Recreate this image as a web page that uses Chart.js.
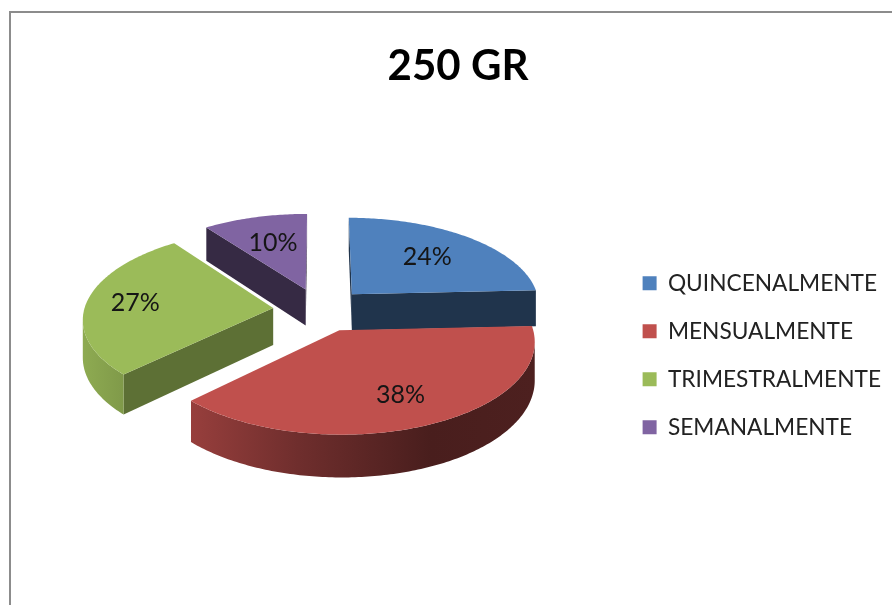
<!DOCTYPE html>
<html><head><meta charset="utf-8">
<script src="https://cdn.jsdelivr.net/npm/chart.js@4"></script>
<style>html,body{margin:0;padding:0;background:#fff}canvas{display:block;filter:blur(.45px)}#w{width:892px;height:605px;overflow:hidden}</style>
</head><body><div id="w"><canvas id="c" width="892" height="605"></canvas></div>
<script>
const categories = ['QUINCENALMENTE','MENSUALMENTE','TRIMESTRALMENTE','SEMANALMENTE'];
const percentages = [24,38,27,10];
const sliceColors = ['#4f81bd','#c0504d','#9bbb59','#8064a2'];
const faceShade = [0.4,0.4,0.6,0.42];
const labelRadius = [0.63,0.71,0.74,0.62];

const view = {cx:320,cy:309.7,a:189,b:88,k:0.11,depth:37};
function proj(px,py){const d=1-view.k*py;return [view.cx+view.a*px/d,view.cy+view.b*py/d,view.depth/d];}
function shade(hex,f){const n=parseInt(hex.slice(1),16);return `rgb(${Math.round((n>>16&255)*f)},${Math.round((n>>8&255)*f)},${Math.round((n&255)*f)})`;}
function quad(c,pts){ // the top edge run, then the same run lowered by its depth
  c.beginPath();
  pts.forEach((q,j)=>{j?c.lineTo(q[0],q[1]):c.moveTo(q[0],q[1]);});
  for(let j=pts.length-1;j>=0;j--)c.lineTo(pts[j][0],pts[j][1]+pts[j][2]);
  c.closePath();c.fill();
}

const pie3d = {
  id:'pie3d',
  beforeDraw(chart){
    const c=chart.ctx;c.save();c.strokeStyle='#8c8c8c';c.lineWidth=2;
    c.beginPath();c.moveTo(10,605);c.lineTo(10,12);c.lineTo(892,12);c.stroke();c.restore();
  },
  beforeDatasetsDraw(chart){
    const c=chart.ctx,meta=chart.getDatasetMeta(0);
    const items=meta.data.map((el,i)=>{
      const s=el.startAngle,e=el.endAngle,m=(s+e)/2,off=el.options.offset/el.outerRadius;
      const ox=off*Math.cos(m),oy=off*Math.sin(m),pts=[[ox,oy]];
      const n=Math.max(8,Math.ceil((e-s)/0.015));
      for(let j=0;j<=n;j++){const a=s+(e-s)*j/n;pts.push([ox+Math.cos(a),oy+Math.sin(a)]);}
      return {i,el,m,ox,oy,pts,color:el.options.backgroundColor};
    }).sort((p,q)=>Math.sin(p.m)-Math.sin(q.m));
    c.save();
    for(const it of items){
      const P=it.pts.map(p=>proj(p[0],p[1])),N=P.length,base=it.color;
      const grad=c.createLinearGradient(80,0,535,0);
      [[0,.92],[.1,.82],[.25,.78],[.48,.58],[.77,.38],[1,.4]].forEach(([t,f])=>grad.addColorStop(t,shade(base,f)));
      // cut faces that look at the viewer
      for(const [a,b] of [[P[0],P[1]],[P[N-1],P[0]]]){
        if(b[0]<a[0]){c.fillStyle=shade(base,faceShade[it.i]);quad(c,[a,b]);}
      }
      // visible run of the outer rim
      let run=[];
      const flush=()=>{if(run.length>1){c.fillStyle=grad;quad(c,run);}run=[];};
      for(let j=1;j<N-1;j++){
        if(P[j+1][0]<P[j][0]){if(!run.length)run.push(P[j]);run.push(P[j+1]);}else flush();
      }
      flush();
      c.fillStyle=base;c.beginPath();
      P.forEach((q,j)=>{j?c.lineTo(q[0],q[1]):c.moveTo(q[0],q[1]);});
      c.closePath();c.fill();
    }
    c.font='25px Lato';c.fillStyle='#151515';c.textAlign='center';c.textBaseline='middle';
    for(const it of items){
      const r=labelRadius[it.i],q=proj(it.ox+r*Math.cos(it.m),it.oy+r*Math.sin(it.m));
      c.fillText(percentages[it.i]+'%',q[0],q[1]);
    }
    c.restore();
    return false;
  }
};

new Chart(document.getElementById('c'),{
  type:'pie',
  data:{labels:categories,datasets:[{data:percentages,backgroundColor:sliceColors,borderWidth:0,offset:54}]},
  plugins:[pie3d],
  options:{
    responsive:false,animation:false,
    layout:{padding:{left:25,right:1,top:0,bottom:6}},
    plugins:{
      tooltip:{enabled:false},
      title:{display:true,text:'250 GR',color:'#000',font:{family:'Lato',size:42,weight:'bold'},padding:{top:41,bottom:20}},
      legend:{position:'right',fullSize:false,labels:{font:{family:'Lato',size:22.7},color:'#222',boxWidth:14,boxHeight:14,padding:25.3}}
    }
  }
});
</script></body></html>
